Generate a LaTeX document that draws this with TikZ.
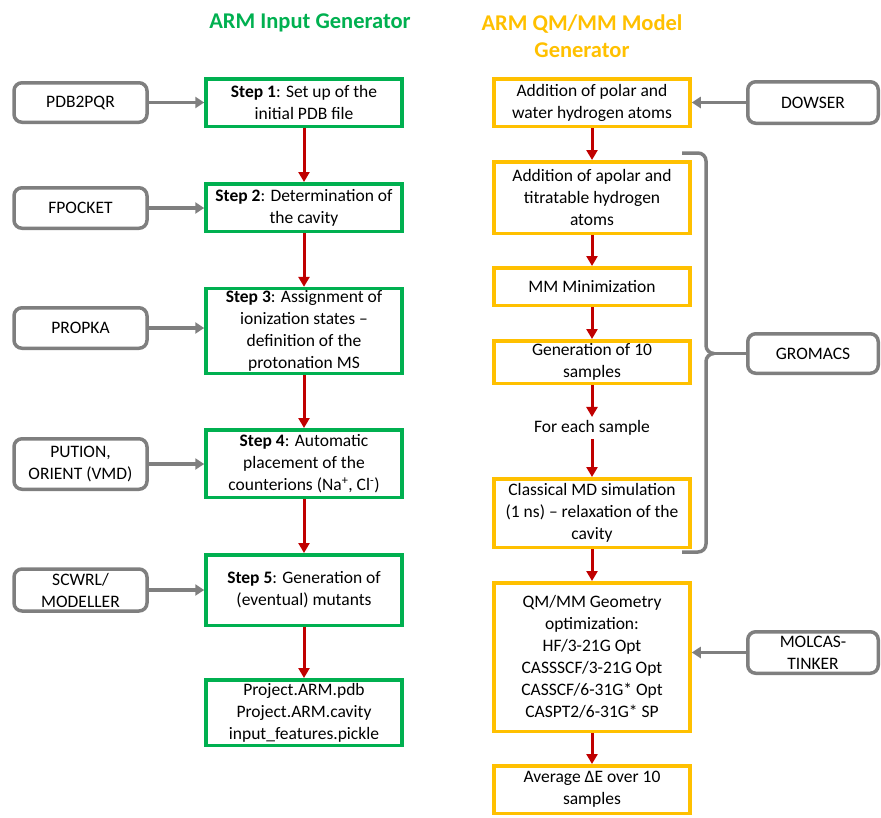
\documentclass[tikz,border=0pt]{standalone}
\usepackage{fontspec}
\setmainfont{Carlito}
\usetikzlibrary{arrows.meta}
\definecolor{armgreen}{HTML}{00B050}
\definecolor{armorange}{HTML}{FFC000}
\definecolor{armred}{HTML}{C00000}
\definecolor{armgray}{HTML}{7F7F7F}
\begin{document}
\begin{tikzpicture}[x=1pt, y=-1pt, font=\fontsize{17.5}{22}\selectfont,
	stepbox/.style={draw=armgreen, line width=3.5pt, fill=white, minimum width=196pt, align=center, inner sep=2pt},
	modelbox/.style={draw=armorange, line width=3.5pt, fill=white, minimum width=196pt, align=center, inner sep=2pt},
	toolbox/.style={draw=armgray, line width=3.5pt, fill=white, rounded corners=8pt, minimum width=133pt, align=center, inner sep=2pt},
	flow/.style={armred, line width=3pt, -{Triangle[width=11pt,length=10pt]}},
	feed/.style={armgray, line width=3.5pt, -{Triangle[width=11pt,length=9pt]}},
	bracket/.style={armgray, line width=3.5pt, rounded corners=8pt},
	title/.style={font=\fontsize{22.5}{27}\selectfont\bfseries, align=center}]
	\useasboundingbox (0,0) rectangle (881,817);
	\node[title, text=armgreen]  (ingen)  at (310,23)   {ARM Input Generator};
	\node[title, text=armorange] (modgen) at (582,36.5) {ARM QM/MM Model\\Generator};
	\node[stepbox, minimum height=47.5pt] (step1)  at (304,102.5) {\textbf{Step 1}: Set up of the\\initial PDB file};
	\node[stepbox, minimum height=47.5pt] (step2)  at (304,207.5) {\textbf{Step 2}: Determination of\\the cavity};
	\node[stepbox, minimum height=84.5pt] (step3)  at (304,331)   {\textbf{Step 3}: Assignment of\\ionization states --\\definition of the\\protonation MS};
	\node[stepbox, minimum height=67.5pt] (step4)  at (304,463.5) {\textbf{Step 4}: Automatic\\placement of the\\counterions (Na\textsuperscript{+}, Cl\textsuperscript{-})};
	\node[stepbox, minimum height=70.5pt] (step5)  at (304,590)   {\textbf{Step 5}: Generation of\\(eventual) mutants};
	\node[stepbox, minimum height=65.5pt] (output) at (304,712.5) {Project.ARM.pdb\\Project.ARM.cavity\\input\_features.pickle};
	\node[toolbox, minimum height=39.5pt] (pdb)    at (80.5,102.5) {PDB2PQR};
	\node[toolbox, minimum height=40.5pt] (fpocket) at (80.5,208)  {FPOCKET};
	\node[toolbox, minimum height=40.5pt] (propka) at (80.5,328)   {PROPKA};
	\node[toolbox, minimum height=50.5pt] (pution) at (80.5,464)   {PUTION,\\ORIENT (VMD)};
	\node[toolbox, minimum height=42pt]   (scwrl)  at (80.5,590)   {SCWRL/\\MODELLER};
	\node[modelbox, minimum height=47.5pt] (polar)  at (592,102.5) {Addition of polar and\\water hydrogen atoms};
	\node[modelbox, minimum height=71.5pt] (apolar) at (592,197.5) {Addition of apolar and\\titratable hydrogen\\atoms};
	\node[modelbox, minimum height=37.5pt] (mini)   at (592,286.5) {MM Minimization};
	\node[modelbox, minimum height=42.5pt] (gen)    at (592,362)   {Generation of 10\\samples};
	\node                                  (each)   at (592,428)   {For each sample};
	\node[modelbox, minimum height=68.5pt] (md)     at (592,513)   {Classical MD simulation\\(1 ns) -- relaxation of the\\cavity};
	\node[modelbox, minimum height=148.5pt] (qmmm)  at (592,657)   {QM/MM Geometry\\optimization:\\HF/3-21G Opt\\CASSSCF/3-21G Opt\\CASSCF/6-31G* Opt\\CASPT2/6-31G* SP};
	\node[modelbox, minimum height=47.5pt] (avg)    at (592,789.5) {Average ΔE over 10\\samples};
	\node[toolbox, minimum width=130.5pt, minimum height=41.5pt] (dowser)  at (813,102.5) {DOWSER};
	\node[toolbox, minimum width=130.5pt, minimum height=39.5pt] (gromacs) at (813,353.5) {GROMACS};
	\node[toolbox, minimum width=130.5pt, minimum height=41.5pt] (molcas)  at (813,652.5) {MOLCAS-\\TINKER};
	\draw[flow] (step1) -- (step2);
	\draw[flow] (step2) -- (step3);
	\draw[flow] (step3) -- (step4);
	\draw[flow] (step4) -- (step5);
	\draw[flow] (step5) -- (output);
	\draw[flow] (polar) -- (apolar);
	\draw[flow] (apolar) -- (mini);
	\draw[flow] (mini) -- (gen);
	\draw[flow] (gen) -- (each);
	\draw[flow] (each) -- (md);
	\draw[flow] (md) -- (qmmm);
	\draw[flow] (qmmm) -- (avg);
	\draw[feed] (pdb) -- (pdb -| step1.west);
	\draw[feed] (fpocket) -- (fpocket -| step2.west);
	\draw[feed] (propka) -- (propka -| step3.west);
	\draw[feed] (pution) -- (pution -| step4.west);
	\draw[feed] (scwrl) -- (scwrl -| step5.west);
	\draw[feed] (dowser) -- (dowser -| polar.east);
	\draw[feed] (molcas) -- (molcas -| qmmm.east);
	\coordinate (bracetip) at (714,353.5);
	\draw[bracket] (682,153) -- (706,153) -- (706,353.5) -- (bracetip);
	\draw[bracket] (682,552) -- (706,552) -- (706,353.5) -- (bracetip);
	\draw[armgray, line width=3.5pt] (bracetip) -- (gromacs);
\end{tikzpicture}
\end{document}
